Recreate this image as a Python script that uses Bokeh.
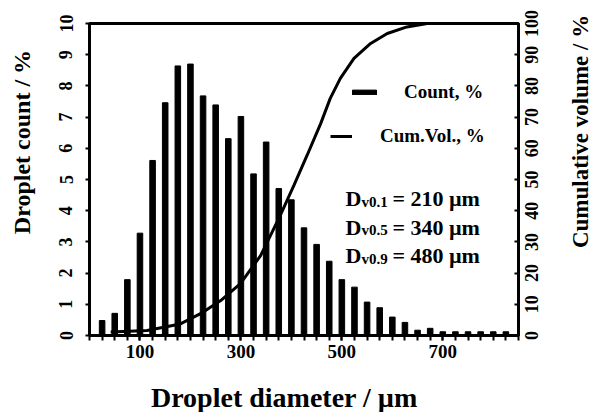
import math
from bokeh.plotting import figure
from bokeh.layouts import row, column
from bokeh.models import Range1d, LinearAxis, FixedTicker, Label, Legend, LegendItem
from bokeh.embed import file_html
from bokeh.resources import INLINE

# ---- data ----
diameter_um = [25, 50, 75, 100, 125, 150, 175, 200, 225, 250, 275, 300, 325, 350,
               375, 400, 425, 450, 475, 500, 525, 550, 575, 600, 625, 650, 675,
               700, 725, 750, 775, 800, 825]
count_pct = [0.48, 0.71, 1.79, 3.28, 5.61, 7.46, 8.64, 8.70, 7.68, 7.39, 6.31,
             7.02, 5.18, 6.20, 4.71, 4.35, 3.45, 2.92, 2.38, 1.79, 1.55, 1.07,
             0.89, 0.59, 0.42, 0.17, 0.23, 0.12, 0.12, 0.12, 0.12, 0.12, 0.12]
cum_x_um = [42, 114, 180, 220, 260, 299, 339, 378, 405, 431, 458, 477, 497,
            524, 557, 590, 629, 669, 850]
cum_vol_pct = [1.1, 1.6, 3.7, 7.0, 11.2, 16.6, 25.6, 38.5, 48.1, 57.7, 67.9,
               76.0, 82.4, 88.8, 93.6, 96.8, 98.9, 100.0, 100.0]
x_tick_labels = [100, 300, 500, 700]
left_ticks = [0, 1, 2, 3, 4, 5, 6, 7, 8, 9, 10]
right_ticks = [0, 10, 20, 30, 40, 50, 60, 70, 80, 90, 100]
d_subs = ["v0.1", "v0.5", "v0.9"]
d_values = ["= 210 µm", "= 340 µm", "= 480 µm"]
x_title = "Droplet diameter / µm"
left_title = "Droplet count / %"
right_title = "Cumulative volume / %"

FONT = "Liberation Serif"
X_MAX = 850
Y_MAX = 10
CUM_MAX = 100

# layout geometry (px)
W, H = 595, 412
LEFT_W = 40            # strip holding the left title
RIGHT_W = 75           # strip holding right tick labels + title
BOTTOM_H = 40          # strip holding the x title
MAIN_W = W - LEFT_W - RIGHT_W
MAIN_H = H - BOTTOM_H
FR_LEFT, FR_TOP = 49, 23           # frame offsets inside main figure
FR_W, FR_H = 429, 312
FR_BOTTOM_GAP = MAIN_H - FR_TOP - FR_H
FR_RIGHT_GAP = MAIN_W - FR_LEFT - FR_W

txt = dict(text_font=FONT, text_font_style="bold", text_color="black")

# ---------------- main plot ----------------
p = figure(width=MAIN_W, height=MAIN_H, x_range=Range1d(0, X_MAX), y_range=Range1d(0, Y_MAX),
           output_backend="svg", toolbar_location=None,
           min_border_left=FR_LEFT, min_border_right=FR_RIGHT_GAP,
           min_border_top=FR_TOP, min_border_bottom=FR_BOTTOM_GAP)
p.grid.visible = False
p.outline_line_color = "black"
p.outline_line_width = 3
p.outline_line_alpha = 1

bars = p.vbar(x=diameter_um, top=count_pct, bottom=0, width=11,
              fill_color="black", line_color="black")
p.extra_y_ranges = {"cum": Range1d(0, CUM_MAX)}
curve = p.line(cum_x_um, cum_vol_pct, y_range_name="cum", line_width=3, line_color="black")

xa = p.xaxis[0]
xa.ticker = FixedTicker(ticks=x_tick_labels, minor_ticks=list(range(0, X_MAX + 1, 25)))
xa.axis_line_width = 3
xa.major_tick_in = 0
xa.major_tick_out = 5
xa.minor_tick_in = 0
xa.minor_tick_out = 5
xa.major_tick_line_width = 2
xa.minor_tick_line_width = 2
xa.major_label_standoff = 4
xa.major_label_text_font = FONT
xa.major_label_text_font_style = "bold"
xa.major_label_text_font_size = "19px"
xa.major_label_text_color = "black"

ya = p.yaxis[0]
ya.ticker = FixedTicker(ticks=left_ticks, minor_ticks=[])
ya.axis_line_width = 3
ya.major_tick_in = 0
ya.major_tick_out = 4
ya.major_tick_line_width = 2
ya.major_label_orientation = "vertical"
ya.major_label_standoff = 13
ya.major_label_text_font = FONT
ya.major_label_text_font_style = "bold"
ya.major_label_text_font_size = "18px"
ya.major_label_text_color = "black"

ra = LinearAxis(y_range_name="cum", ticker=FixedTicker(ticks=right_ticks, minor_ticks=[]))
ra.axis_line_width = 3
ra.major_tick_in = 4
ra.major_tick_out = 0
ra.major_tick_line_width = 2
ra.major_label_standoff = 0
ra.major_label_overrides = {t: "" for t in right_ticks}
p.add_layout(ra, "right")

common = dict(background_fill_alpha=0, border_line_alpha=0, padding=0, margin=0,
              label_text_font=FONT, label_text_font_style="bold",
              label_text_font_size="19px", label_text_color="black")
leg1 = Legend(items=[LegendItem(label="Count, %", renderers=[bars])],
              location=(260, 232), glyph_width=30, glyph_height=6, label_standoff=25, **common)
leg2 = Legend(items=[LegendItem(label="Cum.Vol., %", renderers=[curve])],
              location=(241, 188), glyph_width=22, glyph_height=20, label_standoff=28, **common)
p.add_layout(leg1)
p.add_layout(leg2)

base_y = [4.38, 3.47, 2.56]
for sub, val, yy in zip(d_subs, d_values, base_y):
    p.add_layout(Label(x=507, y=yy, text="D", text_font_size="22px",
                       text_baseline="alphabetic", **txt))
    p.add_layout(Label(x=507, y=yy, x_offset=16, y_offset=-3, text=sub,
                       text_font_size="15px", text_baseline="alphabetic", **txt))
    p.add_layout(Label(x=507, y=yy, x_offset=47, text=val, text_font_size="22px",
                       text_baseline="alphabetic", **txt))


def strip(width, height, x_range, y_range):
    f = figure(width=width, height=height, x_range=x_range, y_range=y_range,
               output_backend="svg", toolbar_location=None, min_border=0,
               x_axis_location=None, y_axis_location=None)
    f.grid.visible = False
    f.outline_line_color = None
    return f


# ---------------- right strip: rotated tick labels + title ----------------
px_per_cum = FR_H / CUM_MAX
cum_lo = -(MAIN_H - FR_TOP - FR_H + BOTTOM_H) / px_per_cum
cum_hi = CUM_MAX + FR_TOP / px_per_cum
pr = strip(RIGHT_W, H, Range1d(0, RIGHT_W), Range1d(cum_lo, cum_hi))
for t in right_ticks:
    pr.add_layout(Label(x=10.5, y=t, angle=math.pi / 2, text=str(t), text_align="center",
                        text_baseline="middle", text_font_size="18px", **txt))
pr.add_layout(Label(x=60, y=65.4, angle=math.pi / 2, text=right_title, text_align="center",
                    text_baseline="middle", text_font_size="23px", **txt))

# ---------------- left strip: title ----------------
px_per_y = FR_H / Y_MAX
y_lo = -(MAIN_H - FR_TOP - FR_H + BOTTOM_H) / px_per_y
y_hi = Y_MAX + FR_TOP / px_per_y
pl = strip(LEFT_W, H, Range1d(0, LEFT_W), Range1d(y_lo, y_hi))
pl.add_layout(Label(x=21, y=6.2, angle=math.pi / 2, text=left_title, text_align="center",
                    text_baseline="middle", text_font_size="24px", **txt))

# ---------------- bottom strip: x title ----------------
pb = strip(MAIN_W, BOTTOM_H, Range1d(0, MAIN_W), Range1d(0, BOTTOM_H))
pb.add_layout(Label(x=218, y=15.5, text=x_title, text_align="center",
                    text_baseline="middle", text_font_size="28px", **txt))

layout = row(pl, column(p, pb), pr)
open("out.html", "w").write(file_html(layout, INLINE))
